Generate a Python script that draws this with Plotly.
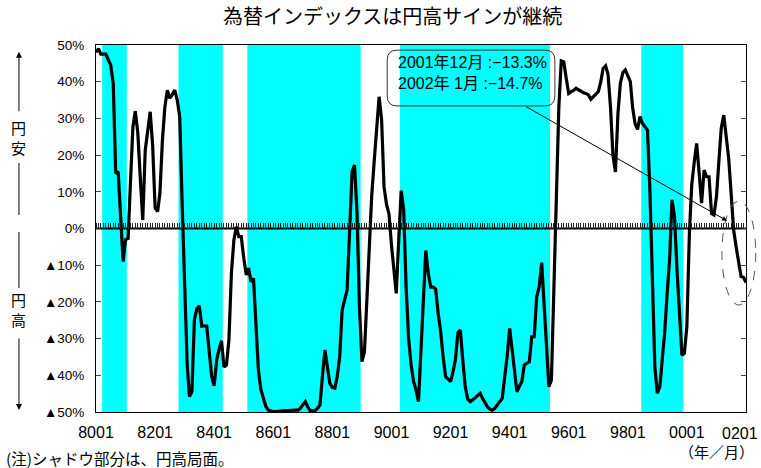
import pandas as pd
import plotly.graph_objects as go

# Monthly observations, Jan 1980 - Jan 2002 (year-on-year change of the FX index, %)
months = pd.date_range("1980-01-01", "2002-01-01", freq="MS")

index_yoy = [
    # 1980
    48, 49, 47.5, 47.5, 47.5, 46, 44.5, 39.5, 15, 15.5, 3, -9,
    # 1981
    -3, -2.7, 12, 27.6, 32, 26, 14, 2.3, 21.4, 27, 31.8, 22.8,
    # 1982
    5.6, 4.6, 9.6, 24, 33, 37.7, 35.5, 36.5, 37.7, 35, 30.5, 6.9,
    # 1983
    -15, -37, -45.8, -44.5, -24.9, -21.8, -21.1, -26.6, -26.5, -26.6, -33.6, -40.4,
    # 1984
    -42.9, -35.8, -33, -30.6, -37.7, -37.2, -30.4, -12.2, -3.1, 0.5, -2.2, -2.2,
    # 1985
    -8.1, -12.7, -10.8, -14.5, -13.6, -26.7, -38.6, -44, -46.7, -48.5, -49.5, -49.8,
    # 1986
    -49.9, -49.9, -49.8, -49.8, -49.7, -49.6, -49.6, -49.5, -49.5, -49.5, -49.5, -49,
    # 1987
    -48, -47.2, -48.5, -49.6, -49.6, -49.6, -49, -48.1, -40, -33.1, -37.7, -42.2,
    # 1988
    -43.3, -43.5, -40.4, -34.9, -22.2, -19, -16.8, -1, 15.5, 17.3, 4.1, -21.3,
    # 1989
    -36.3, -33.6, -19.5, -5, 8.7, 18.2, 27, 35.9, 29.6, 11.4, 6.5, 4,
    # 1990
    -4.5, -11, -17.7, -3, 10.3, 5, -15.9, -30, -37.2, -41.7, -44, -47.2,
    # 1991
    -31.3, -16.8, -6, -12.2, -16, -16, -16.5, -23.1, -28.1, -34.9, -40.4, -41,
    # 1992
    -41.7, -39, -35.8, -28.4, -27.7, -36, -43.1, -46.5, -47.2, -46.7, -46, -45.5,
    # 1993
    -44.9, -46.3, -47.6, -48.6, -49.2, -49.5, -49, -48.1, -47, -46.3, -40.4, -34.9,
    # 1994
    -27.2, -33, -39, -44.5, -43, -41.7, -37.2, -36.8, -36.3, -29.5, -29.5, -18.6,
    # 1995
    -15.9, -9.3, -20, -32, -43.1, -41.3, -16.8, 10, 33, 45.7, 45.4, 41,
    # 1996
    36.8, 37.3, 37.6, 38.2, 37.8, 37.3, 37, 36.8, 36.4, 35.2, 36, 36.8,
    # 1997
    37.3, 40, 43.6, 44.3, 42, 33, 20, 15.4, 31.4, 39.6, 42.5, 43.2,
    # 1998
    41.5, 40, 33, 28.5, 27, 30.5, 28.6, 27.7, 26.8, 10.5, -15.9, -37.7,
    # 1999
    -44.9, -43.1, -36, -28.6, -18, -8.6, 7.8, 3.2, -11.4, -24, -34.5, -34,
    # 2000
    -26.7, -1.3, 11.9, 18, 23.2, 15, 6.9, 15.9, 14.1, 14.1, 4.1, 3.7,
    # 2001
    8.7, 18.7, 27.3, 30.9, 25, 19.1, 9.6, -0.4, -5, -8.6, -13.1, -13.3,
    # 2002
    -14.7,
]

# Yen-appreciation phases (first month, last month)
yen_high_periods = [
    ("1980-04", "1981-01"),
    ("1982-11", "1984-04"),
    ("1985-03", "1988-12"),
    ("1990-05", "1995-05"),
    ("1998-07", "1999-11"),
]

x_tick_months = [f"{y}-01-01" for y in range(1980, 2003, 2)]
x_tick_labels = ["8001", "8201", "8401", "8601", "8801", "9001",
                 "9201", "9401", "9601", "9801", "0001", "0201"]
y_tick_values = [50, 40, 30, 20, 10, 0, -10, -20, -30, -40, -50]
y_tick_labels = ["50%", "40%", "30%", "20%", "10%", "0%",
                 "▲10%", "▲20%", "▲30%", "▲40%", "▲50%"]

latest_labels = ["2001年12月", "2002年 1月"]
latest_values = [index_yoy[-2], index_yoy[-1]]

FONT = "Liberation Sans, Noto Sans CJK JP, sans-serif"
JP_FONT = "Noto Sans CJK JP, sans-serif"
X_TICK_SIZE = 16

fig = go.Figure()

# shaded yen-appreciation phases
half_month = pd.Timedelta(days=15)
for start, end in yen_high_periods:
    fig.add_shape(
        type="rect", xref="x", yref="paper",
        x0=pd.Timestamp(start) - half_month,
        x1=pd.Timestamp(end) + half_month,
        y0=0, y1=1, fillcolor="#00FFFF", line_width=0, layer="below",
    )

# zero line carrying the monthly tick marks
fig.add_trace(go.Scatter(
    x=months, y=[0] * len(months), xaxis="x2", mode="lines",
    line=dict(color="black", width=2), hoverinfo="skip", showlegend=False,
))

# index line
fig.add_trace(go.Scatter(
    x=months, y=index_yoy, mode="lines",
    line=dict(color="black", width=3.2), showlegend=False,
))

# callout box with rounded corners
bx0, bx1, by0, by1, rx, ry = 0.448, 0.706, 0.834, 0.986, 0.0154, 0.0272
box_path = (
    f"M {bx0+rx},{by1} L {bx1-rx},{by1} Q {bx1},{by1} {bx1},{by1-ry} "
    f"L {bx1},{by0+ry} Q {bx1},{by0} {bx1-rx},{by0} "
    f"L {bx0+rx},{by0} Q {bx0},{by0} {bx0},{by0+ry} "
    f"L {bx0},{by1-ry} Q {bx0},{by1} {bx0+rx},{by1} Z"
)
fig.add_shape(type="path", xref="paper", yref="paper", path=box_path,
              line=dict(color="#333333", width=1), fillcolor="rgba(0,0,0,0)")

callout_text = "<br>".join(
    f"{lab} :−{abs(v):.1f}%" for lab, v in zip(latest_labels, latest_values)
)
fig.add_annotation(
    xref="paper", yref="paper", x=0.461, y=0.925, xanchor="left", yanchor="middle",
    text=callout_text, showarrow=False, align="left",
    font=dict(family=FONT, size=16, color="black"),
)

# pointer from the callout to the latest observations
fig.add_annotation(
    xref="x", yref="y", x="2001-05-12", y=2.1,
    axref="x", ayref="y", ax="1994-07-07", ay=33.4,
    text="", showarrow=True, arrowhead=2, arrowsize=1, arrowwidth=1,
    arrowcolor="black",
)

# dashed ellipse around the latest months
fig.add_shape(type="circle", xref="paper", yref="paper",
              x0=0.963, x1=1.015, y0=0.2916, y1=0.575,
              line=dict(color="#555555", width=1, dash="dash"))

# left-side direction labels
side_x = -0.1185
for label, ymid in [("円<br>安", 0.748), ("円<br>高", 0.278)]:
    fig.add_annotation(xref="paper", yref="paper", x=side_x, y=ymid, text=label,
                       xanchor="center", yanchor="middle", showarrow=False,
                       font=dict(family=JP_FONT, size=15, color="black"))
fig.add_annotation(xref="paper", yref="paper", x=side_x, y=0.9817, ax=0, ay=61,
                   text="", showarrow=True, arrowhead=2, arrowsize=1.2,
                   arrowwidth=1, arrowcolor="black")
fig.add_annotation(xref="paper", yref="paper", x=side_x, y=0.0055, ax=0, ay=-73,
                   text="", showarrow=True, arrowhead=2, arrowsize=1.2,
                   arrowwidth=1, arrowcolor="black")
for y0, y1 in [(0.5368, 0.6785), (0.3379, 0.4905)]:
    fig.add_shape(type="line", xref="paper", yref="paper",
                  x0=side_x, x1=side_x, y0=y0, y1=y1,
                  line=dict(color="black", width=1))

# last x label sits flush with the right edge of the figure
fig.add_annotation(xref="paper", yref="paper", x=1.0215, y=-0.0575,
                   xanchor="right", yanchor="middle", text=x_tick_labels[-1],
                   showarrow=False, font=dict(family=FONT, size=X_TICK_SIZE, color="black"))

# footnotes
fig.add_annotation(xref="paper", yref="paper", x=-0.141, y=-0.125,
                   xanchor="left", yanchor="middle", text="(注)シャドウ部分は、円高局面。",
                   showarrow=False, font=dict(family=JP_FONT, size=15.5, color="black"))
fig.add_annotation(xref="paper", yref="paper", x=0.954, y=-0.108,
                   xanchor="center", yanchor="middle", text="（年／月）",
                   showarrow=False, font=dict(family=JP_FONT, size=15, color="black"))

fig.update_layout(
    width=761, height=468,
    margin=dict(l=96, r=15, t=45, b=56, autoexpand=False),
    paper_bgcolor="white", plot_bgcolor="white",
    font=dict(family=FONT, color="black"),
    title=dict(text="為替インデックスは円高サインが継続", x=0.516, xref="container",
               xanchor="center", y=0.964, yanchor="middle",
               font=dict(family=JP_FONT, size=20, color="black")),
    xaxis=dict(
        type="date", range=["1980-01-01", "2002-01-01"],
        tickvals=x_tick_months[:-1], ticktext=x_tick_labels[:-1], ticks="",
        showline=True, mirror=True, linecolor="black", linewidth=1,
        showgrid=False, zeroline=False, tickfont=dict(size=X_TICK_SIZE),
        ticklabelstandoff=6, automargin=False,
    ),
    xaxis2=dict(
        type="date", overlaying="x", matches="x", anchor="free", position=0.5,
        side="top", ticks="outside", ticklen=6, tickwidth=1, tickcolor="#222222",
        dtick="M1", tick0="1980-01-01", showticklabels=False,
        showgrid=False, showline=False, zeroline=False, automargin=False,
    ),
    yaxis=dict(
        range=[-50, 50], tickvals=y_tick_values, ticktext=y_tick_labels,
        ticks="inside", ticklen=5, mirror="ticks", showline=True,
        linecolor="black", linewidth=1, showgrid=False, zeroline=False,
        tickfont=dict(size=13.5), ticklabelstandoff=8, automargin=False,
    ),
    showlegend=False,
)

fig.write_html("out.html")
